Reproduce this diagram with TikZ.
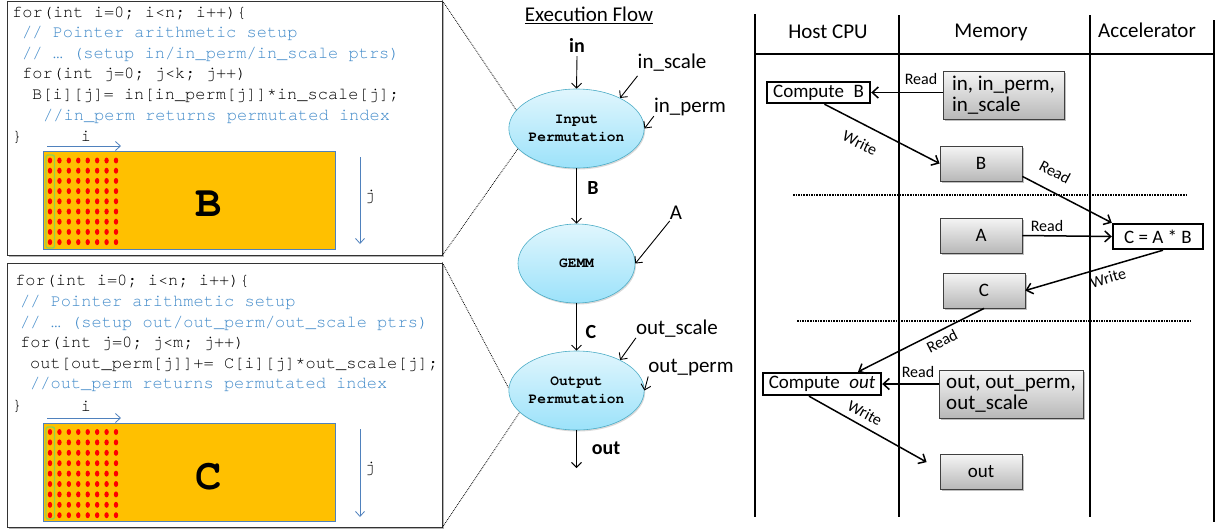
\documentclass[tikz,border=0pt]{standalone}
\usepackage{fontspec}
\setmainfont{Carlito}
\setmonofont{TeX Gyre Cursor}
\usetikzlibrary{arrows.meta,shapes.geometric,shadows}
\definecolor{cmtblue}{RGB}{66,139,202}
\definecolor{arrblue}{RGB}{79,129,189}
\definecolor{matorange}{RGB}{255,192,0}
\definecolor{selgreen}{RGB}{146,208,80}
\definecolor{optop}{RGB}{224,246,253}
\definecolor{opbot}{RGB}{156,226,250}
\definecolor{opline}{RGB}{75,172,198}
\tikzset{
	codebox/.style={draw=black!80, line width=0.8pt, fill=white, inner sep=0, drop shadow={shadow xshift=1.5pt, shadow yshift=-1.5pt, opacity=0.6}},
	code/.style={anchor=west, inner sep=0, text height=12pt, text depth=4pt, font=\ttfamily\fontsize{17}{20}\selectfont},
	idx/.style={arrblue, line width=0.8pt, -{Straight Barb[length=5pt,width=9pt]}},
	idxlbl/.style={inner sep=0, font=\ttfamily\fontsize{17}{20}\selectfont},
	bigletter/.style={inner sep=0, font=\ttfamily\bfseries\fontsize{44}{44}\selectfont},
	zoomline/.style={densely dotted, line width=0.8pt},
	op/.style={ellipse, draw=opline, line width=0.6pt, top color=optop, bottom color=opbot, minimum width=117pt, minimum height=79pt, inner sep=0, align=center, font=\ttfamily\bfseries\fontsize{14.5}{18}\selectfont, drop shadow={shadow xshift=1pt, shadow yshift=-1.5pt, opacity=0.3}},
	flow/.style={line width=0.9pt, -{Straight Barb[length=5pt,width=10pt]}},
	lbl/.style={inner sep=0, font=\fontsize{21}{24}\selectfont},
	lblb/.style={inner sep=0, font=\bfseries\fontsize{20}{24}\selectfont},
	lane/.style={line width=2pt},
	head/.style={inner sep=0, font=\fontsize{21}{24}\selectfont},
	task/.style={draw, line width=2.4pt, fill=white, inner sep=0, font=\fontsize{19}{22}\selectfont},
	mem/.style={draw=black!75, line width=0.8pt, top color=black!4, bottom color=black!28, inner sep=0, minimum width=82pt, minimum height=35pt, font=\fontsize{19}{20}\selectfont, drop shadow={shadow xshift=1.5pt, shadow yshift=-1.5pt, opacity=0.5}},
	memtwo/.style={mem, align=left, font=\fontsize{21}{20.5}\selectfont},
	xfer/.style={line width=1.5pt, -{Straight Barb[length=6pt,width=11pt]}},
	rw/.style={inner sep=0, font=\fontsize{16}{18}\selectfont},
	sep/.style={densely dotted, line width=1.6pt}
}

\begin{document}
\begin{tikzpicture}[x=1pt, y=-1pt]
			%%%%% START %%%%%
			\useasboundingbox (0,0) rectangle (1217,531);
			
			% input permutation code
			\node[codebox, minimum width=435pt, minimum height=254pt] (boxB) at (224.5,128) {};
			\node[code] (b1) at (12,13) {for(int i=0; i<n; i++)\{};
			\node[code, text=cmtblue] (b2) at (22,33) {// Pointer arithmetic setup};
			\node[code, text=cmtblue] (b3) at (22,54) {// … (setup in/in\_perm/in\_scale ptrs)};
			\node[code] (b4) at (22,74) {for(int j=0; j<k; j++)};
			\node[code] (b5) at (32,95) {B[i][j]= in[in\_perm[j]]*in\_scale[j];};
			\node[code, text=cmtblue] (b6) at (43,116) {//in\_perm returns permutated index};
			\node[code] (b7) at (12,137) {\}};
			
			\node[idxlbl] (bi) at (86,136) {i};
			\draw[idx] (47,146) -- (121,146);
			\draw[arrblue, line width=0.8pt, fill=matorange] (43,151) rectangle (335,249);
			\foreach \c in {0,...,7}
				\foreach \r in {0,...,8}
					\fill[red] (50+\c*9.43,160.5+\r*10.2) ellipse (2.2 and 3);
			\draw[selgreen, line width=1.4pt, rounded corners=2pt] (46,155) rectangle (54.5,248);
			\node[bigletter] (bigB) at (209,204) {B};
			\draw[idx] (360,157) -- (360,244);
			\node[idxlbl] (bj) at (370,197) {j};
			
			% output permutation code
			\node[codebox, minimum width=435pt, minimum height=264pt] (boxC) at (224.5,395) {};
			\node[code] (c1) at (15,281) {for(int i=0; i<n; i++)\{};
			\node[code, text=cmtblue] (c2) at (20,302) {// Pointer arithmetic setup};
			\node[code, text=cmtblue] (c3) at (20,323) {// … (setup out/out\_perm/out\_scale ptrs)};
			\node[code] (c4) at (20,343) {for(int j=0; j<m; j++)};
			\node[code] (c5) at (30,364) {out[out\_perm[j]]+= C[i][j]*out\_scale[j];};
			\node[code, text=cmtblue] (c6) at (30,384) {//out\_perm returns permutated index};
			\node[code] (c7) at (12,406) {\}};
			
			\node[idxlbl] (ci) at (86,406) {i};
			\draw[idx] (47,418) -- (121,418);
			\draw[arrblue, line width=0.8pt, fill=matorange] (43,423) rectangle (335,521);
			\foreach \c in {0,...,7}
				\foreach \r in {0,...,8}
					\fill[red] (50+\c*9.43,432+\r*10.4) ellipse (2.2 and 3);
			\draw[selgreen, line width=1.4pt, rounded corners=2pt] (46,427) rectangle (54.5,519);
			\node[bigletter] (bigC) at (209,477) {C};
			\draw[idx] (360,429) -- (360,517);
			\node[idxlbl] (cj) at (370,469) {j};
			
			% execution flow
			\node[lbl] (ttl) at (589,15) {\underline{Execution Flow}};
			\node[op] (inp) at (576.5,128.5) {Input\\Permutation};
			\node[op] (gemm) at (576.5,263.5) {GEMM};
			\node[op] (outp) at (576.5,390.5) {Output\\Permutation};
			
			\draw[zoomline] (boxB.north east) -- (inp.163);
			\draw[zoomline] (boxB.south east) -- (inp.199);
			\draw[zoomline] (boxC.north east) -- (outp.178);
			\draw[zoomline] (boxC.south east) -- (outp.201);
			
			\node[lblb] (lin) at (577,45) {in};
			\draw[flow] ([yshift=-4pt]lin.south) -- (inp.north);
			\node[lbl] (lscale) at (672,63) {in\_scale};
			\draw[flow] ([yshift=-4pt]lscale.south west) -- (inp.35);
			\node[lbl] (lperm) at (690,107) {in\_perm};
			\draw[flow] (lperm.south west) -- (inp.east);
			
			\draw[flow] (inp.south) -- (gemm.north);
			\node[lblb] (lB) at (593,188) {B};
			\node[lbl] (lA) at (676,213) {A};
			\draw[flow] ([yshift=-1pt]lA.south west) -- (gemm.east);
			
			\draw[flow] (gemm.south) -- (outp.north);
			\node[lblb] (lC) at (591,332) {C};
			\node[lbl] (loscale) at (677,329) {out\_scale};
			\draw[flow] (loscale.south west) -- (outp.35);
			\node[lbl] (loperm) at (691,368) {out\_perm};
			\draw[flow] (loperm.south west) -- (outp.east);
			
			\coordinate (fend) at (576.5,468);
			\draw[flow] (outp.south) -- (fend);
			\node[lblb] (lout) at (606,448) {out};
			
			% swim lanes
			\draw[lane] (755,14) -- (755,517);
			\draw[lane] (899,15) -- (899,517);
			\draw[lane] (1090,15) -- (1090,517);
			\draw[lane] (1214,20) -- (1214,522);
			\draw[lane] (755,54) -- (1214,54);
			\node[head] (hcpu) at (828,32) {Host CPU};
			\node[head] (hmem) at (991,32) {Memory};
			\node[head] (hacc) at (1147,30) {Accelerator};
			
			% input permutation phase
			\node[task, minimum width=103pt, minimum height=21pt] (cb) at (818.5,92.5) {Compute\enspace B};
			\node[memtwo, minimum width=121pt, minimum height=48pt] (inbuf) at (1003.5,95) {in, in\_perm,\\in\_scale};
			\draw[xfer] (inbuf.west |- cb) -- (cb.east);
			\node[rw] (r1) at (921,79) {Read};
			
			\node[mem] (bufB) at (981,163.5) {B};
			\draw[xfer] ([xshift=6pt]cb.south) -- (bufB.west);
			\node[rw, rotate=-26] (w1) at (860,143) {Write};
			
			\draw[sep] (793,195) -- (1187,195);
			
			% gemm phase
			\node[mem] (bufA) at (981,235.5) {A};
			\node[task, minimum width=90pt, minimum height=25pt] (gm) at (1158,236.5) {C = A * B};
			\draw[xfer] ([yshift=5pt]bufB.south east) -- (gm.north west);
			\node[rw, rotate=-28] (r2) at (1055,172) {Read};
			\draw[xfer] (bufA.east) -- (gm.west);
			\node[rw] (r3) at (1047,226) {Read};
			
			\node[mem] (bufC) at (984,290.5) {C};
			\draw[xfer] ([xshift=5pt]gm.south) -- (bufC.east);
			\node[rw, rotate=16] (w2) at (1108,278) {Write};
			
			\draw[sep] (797,321) -- (1190,321);
			
			% output permutation phase
			\node[task, minimum width=118pt, minimum height=22pt] (co) at (822,384) {Compute\enspace\textit{out}};
			\draw[xfer] (bufC.south) -- ([xshift=36pt]co.north);
			\node[rw, rotate=27] (r4) at (942,341) {Read};
			
			\node[memtwo, minimum width=144pt, minimum height=48pt] (outbuf) at (1011,394) {out, out\_perm,\\out\_scale};
			\draw[xfer] (outbuf.west |- co) -- (co.east);
			\node[rw] (r5) at (918,372) {Read};
			
			\node[mem] (bufout) at (981,472) {out};
			\draw[xfer] ([xshift=-13pt]co.south) -- ([xshift=-13pt,yshift=-8pt]bufout.north west);
			\node[rw, rotate=-28] (w3) at (865,413) {Write};
			
			%%%%% END %%%%%
\end{tikzpicture}
\end{document}
